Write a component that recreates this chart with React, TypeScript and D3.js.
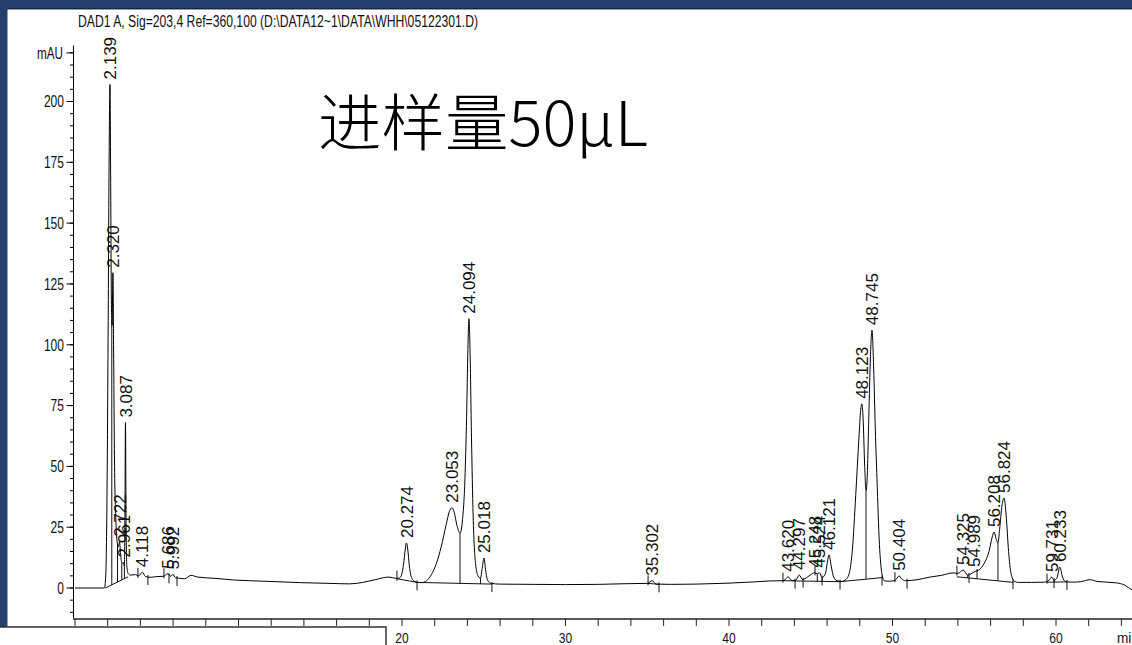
import React from 'react';
import * as d3 from 'd3';

const W = 1132;
const H = 645;

const title = 'DAD1 A, Sig=203,4 Ref=360,100 (D:\\DATA12~1\\DATA\\WHH\\05122301.D)';
const annotation = '进样量50μL';

// Detector trace: [retention time (min), signal (mAU)]
const tracePoints: [number, number][] = [
  [0, 0], [1.8, 0], [1.88, 5], [1.96, 40], [2.03, 110], [2.09, 180], [2.139, 207],
  [2.18, 170], [2.23, 115], [2.27, 108], [2.32, 129.6], [2.36, 100], [2.42, 50],
  [2.5, 28], [2.6, 18], [2.66, 17], [2.722, 19], [2.8, 13], [2.88, 10], [2.961, 10.5],
  [3.02, 9], [3.055, 30], [3.087, 68], [3.12, 30], [3.17, 9], [3.25, 6], [3.4, 5.3],
  [3.7, 5.5], [3.9, 5.0], [4.118, 6.5], [4.3, 4.8], [4.6, 4.4], [5.0, 4.7], [5.4, 4.8],
  [5.686, 5.9], [5.85, 4.8], [5.992, 5.6], [6.15, 4.2], [6.4, 4.0], [6.7, 3.8],
  [7.1, 5.2], [7.5, 4.5], [8.5, 4.0], [9.7, 3.3], [11.5, 2.8], [13.8, 2.2], [15.6, 1.9],
  [16.8, 1.7], [17.6, 2.3], [18.4, 3.5], [19.2, 4.5], [19.6, 4.0], [19.8, 4.0],
  [19.95, 5], [20.1, 10], [20.2, 16], [20.274, 18.5], [20.35, 16], [20.45, 9],
  [20.6, 4], [20.8, 2.6], [20.92, 2.3], [21.2, 2.2], [21.5, 3], [21.8, 5.5], [22.1, 10],
  [22.4, 17], [22.7, 26], [22.9, 31.5], [23.053, 33], [23.2, 31], [23.35, 26],
  [23.55, 22.5], [23.7, 28], [23.85, 45], [23.95, 70], [24.03, 98], [24.094, 110.7],
  [24.16, 98], [24.25, 62], [24.35, 30], [24.5, 10], [24.65, 5], [24.8, 4], [24.9, 8],
  [25.018, 12.3], [25.12, 7], [25.25, 3], [25.45, 1.9], [26, 1.6], [28, 1.5], [30, 1.4],
  [32, 1.5], [34, 1.8], [35.0, 1.9], [35.302, 3.0], [35.55, 1.6], [36.5, 1.5], [38, 1.6],
  [40, 2.0], [41.5, 2.5], [42.5, 2.9], [43.3, 3.0], [43.45, 3.6], [43.62, 4.6],
  [43.8, 3.2], [44.05, 3], [44.297, 5.3], [44.5, 3.5], [44.8, 4.5], [45.0, 5.5],
  [45.248, 6.3], [45.4, 5.8], [45.524, 6.3], [45.7, 4.3], [45.9, 6], [46.0, 10],
  [46.121, 13.6], [46.25, 9], [46.4, 4.5], [46.6, 3], [46.9, 2.7], [47.15, 3.5],
  [47.35, 6], [47.55, 16], [47.75, 38], [47.95, 62], [48.05, 73], [48.123, 75.7],
  [48.2, 70], [48.3, 50], [48.38, 40], [48.45, 45], [48.55, 70], [48.65, 95],
  [48.745, 106], [48.85, 90], [48.95, 65], [49.05, 45], [49.2, 18], [49.35, 6],
  [49.5, 3], [49.8, 2.8], [50.1, 3], [50.25, 3.8], [50.404, 5], [50.55, 3.8], [50.8, 3],
  [51.5, 3.4], [52.3, 4.5], [53.0, 5.2], [53.7, 6.2], [54.0, 6.0], [54.325, 7.4],
  [54.6, 5.3], [54.989, 6.6], [55.3, 7.5], [55.6, 10], [55.9, 15], [56.1, 21],
  [56.208, 23], [56.35, 20], [56.45, 18.5], [56.55, 24], [56.7, 34], [56.824, 37],
  [56.95, 30], [57.1, 15], [57.25, 6], [57.45, 2.8], [57.7, 2.3], [58.5, 2.3],
  [59.3, 2.4], [59.55, 3], [59.731, 4.5], [59.88, 3.2], [60.05, 4], [60.233, 8.6],
  [60.4, 4.5], [60.6, 2.6], [61, 2.4], [61.5, 2.6], [62.1, 3.4], [62.5, 2.7],
  [63.7, 2.1], [64.2, 1.2], [64.65, -0.8], [65.2, -1.8],
];

// Integrated peaks: retention time (min) and apex height (mAU)
const peakTimes = [
  2.139, 2.32, 2.722, 2.961, 3.087, 4.118, 5.686, 5.992, 20.274, 23.053, 24.094,
  25.018, 35.302, 43.62, 44.297, 45.248, 45.524, 46.121, 48.123, 48.745, 50.404,
  54.325, 54.989, 56.208, 56.824, 59.731, 60.233,
];
const peakHeights = [
  207, 129.6, 19, 10.5, 68, 6.5, 5.9, 5.6, 18.5, 33, 110.7,
  12.3, 3.0, 4.6, 5.3, 6.3, 6.3, 13.6, 75.7, 106, 5,
  7.4, 6.6, 23, 37, 4.5, 8.6,
];

// Integration baselines: [t1, v1, t2, v2]
const integrationBaselines: [number, number, number, number][] = [
  [1.85, 0, 3.25, 4.6],
  [19.7, 3.8, 20.92, 2.3],
  [20.92, 2.3, 25.5, 1.6],
  [35.05, 1.9, 35.72, 1.5],
  [43.3, 3.0, 46.8, 2.6],
  [46.8, 2.6, 49.4, 4.3],
  [53.94, 4.6, 57.4, 2.3],
  [59.45, 2.4, 60.67, 2.5],
];

// Drop lines separating fused peaks: [t, baseline value, trace value]
const dropLines: [number, number, number][] = [
  [2.25, 1.2, 110], [2.6, 2.4, 18], [2.86, 3.4, 10], [3.02, 3.9, 9],
  [23.55, 1.9, 22.5], [24.8, 1.7, 4],
  [44.05, 2.9, 3], [45.4, 2.7, 5.8], [45.7, 2.7, 4.3],
  [48.38, 3.6, 40], [54.6, 4.1, 5.3], [56.45, 2.95, 18.5], [59.88, 2.4, 3.2],
];

// Peak start (+1) / end (-1) markers: [t, value, direction]
const peakMarks: [number, number, number][] = [
  [3.85, 5.0, 1], [4.46, 4.5, -1], [5.44, 4.8, 1], [5.75, 5.2, -1], [6.24, 4.1, -1],
  [19.69, 3.8, 1], [20.92, 2.3, -1], [25.5, 1.6, -1],
  [35.05, 1.9, 1], [35.72, 1.5, -1],
  [43.3, 3.0, 1], [44.04, 3.0, -1], [44.53, 3.4, -1], [45.26, 6.0, 1], [45.69, 4.3, -1],
  [46.79, 2.6, -1], [49.36, 4.3, -1], [50.15, 3.2, 1], [50.89, 3.0, -1],
  [53.94, 5.9, 1], [54.68, 5.4, -1], [55.17, 7.0, -1], [57.37, 2.8, -1],
  [59.45, 2.6, 1], [59.88, 3.2, -1], [60.67, 2.5, -1],
];

const yMajorTicks = [0, 25, 50, 75, 100, 125, 150, 175, 200];
const yMinorTicks = d3.range(-10, 221, 5);
const xLabelTicks = [20, 30, 40, 50, 60];
const xMinorTicks = d3.range(0, 66, 2);

const NAVY = '#24406e';
const LABEL_FONT = '"Liberation Sans", Arial, sans-serif';

export default function App() {
  const x = d3.scaleLinear().domain([0, 64]).range([75, 1121.4]);
  const y = d3.scaleLinear().domain([0, 200]).range([588, 101.5]);

  const traceLine = d3
    .line<[number, number]>()
    .x((d) => x(d[0]))
    .y((d) => y(d[1]))
    .curve(d3.curveMonotoneX);

  const axisBottomY = y(-12.7);
  const axisTopY = y(223);

  return (
    <svg
      width={W}
      height={H}
      viewBox={`0 0 ${W} ${H}`}
      style={{ position: 'absolute', left: 0, top: 0, display: 'block', background: '#fff' }}
    >
      <rect x={0} y={0} width={W} height={H} fill="#fff" />

      {/* window frame */}
      <rect x={0} y={0} width={W} height={8} fill={NAVY} />
      <line x1={0} x2={W} y1={8.5} y2={8.5} stroke="#14264a" strokeWidth={1} />
      <line x1={0} x2={W} y1={9.5} y2={9.5} stroke="#9a9a9a" strokeWidth={1} />
      <rect x={0} y={0} width={7.5} height={627} fill={NAVY} />

      {/* header */}
      <text
        x={78}
        y={27}
        fontFamily={LABEL_FONT}
        fontSize={16}
        textLength={400}
        lengthAdjust="spacingAndGlyphs"
        fill="#111"
      >
        {title}
      </text>

      {/* y axis */}
      <line x1={73.5} x2={73.5} y1={axisTopY} y2={axisBottomY} stroke="#000" strokeWidth={1} />
      {yMinorTicks.map((v) => (
        <line key={`ym${v}`} x1={70} x2={73.5} y1={y(v)} y2={y(v)} stroke="#000" strokeWidth={1} />
      ))}
      {yMajorTicks.map((v) => (
        <g key={`yM${v}`}>
          <line x1={66.5} x2={73.5} y1={y(v)} y2={y(v)} stroke="#000" strokeWidth={1} />
          <text
            x={64}
            y={y(v)}
            dy="0.36em"
            textAnchor="end"
            fontFamily={LABEL_FONT}
            fontSize={16}
            textLength={String(v).length * 6.7}
            lengthAdjust="spacingAndGlyphs"
            fill="#111"
          >
            {v}
          </text>
        </g>
      ))}
      <line x1={66.5} x2={73.5} y1={y(220)} y2={y(220)} stroke="#000" strokeWidth={1} />
      <text
        x={63}
        y={y(220)}
        dy="0.36em"
        textAnchor="end"
        fontFamily={LABEL_FONT}
        fontSize={16}
        textLength={26}
        lengthAdjust="spacingAndGlyphs"
        fill="#111"
      >
        mAU
      </text>

      {/* x axis */}
      <line x1={73} x2={W} y1={axisBottomY} y2={axisBottomY} stroke="#5a5a5a" strokeWidth={2} />
      {xMinorTicks.map((t) => (
        <line
          key={`xm${t}`}
          x1={x(t)}
          x2={x(t)}
          y1={axisBottomY}
          y2={axisBottomY + 7}
          stroke="#222"
          strokeWidth={1}
        />
      ))}
      {xLabelTicks.map((t) => (
        <text
          key={`xl${t}`}
          x={x(t)}
          y={643}
          textAnchor="middle"
          fontFamily={LABEL_FONT}
          fontSize={15}
          textLength={String(t).length * 6.7}
          lengthAdjust="spacingAndGlyphs"
          fill="#111"
        >
          {t}
        </text>
      ))}
      <text
        x={1117}
        y={643}
        fontFamily={LABEL_FONT}
        fontSize={15}
        textLength={22}
        lengthAdjust="spacingAndGlyphs"
        fill="#111"
      >
        min
      </text>

      {/* integration baselines */}
      {integrationBaselines.map(([t1, v1, t2, v2], i) => (
        <line
          key={`ib${i}`}
          x1={x(t1)}
          y1={y(v1)}
          x2={x(t2)}
          y2={y(v2)}
          stroke="#111"
          strokeWidth={1}
        />
      ))}
      {dropLines.map(([t, v0, v1], i) => (
        <line
          key={`dl${i}`}
          x1={x(t)}
          x2={x(t)}
          y1={y(v0)}
          y2={y(v1)}
          stroke="#111"
          strokeWidth={1}
        />
      ))}
      {peakMarks.map(([t, v, dir], i) => (
        <line
          key={`pm${i}`}
          x1={x(t)}
          x2={x(t)}
          y1={y(v) + (dir > 0 ? 2 : -2)}
          y2={y(v) + (dir > 0 ? -8 : 8)}
          stroke="#111"
          strokeWidth={1}
        />
      ))}

      {/* signal */}
      <path d={traceLine(tracePoints) ?? ''} fill="none" stroke="#000" strokeWidth={1} />

      {/* retention time labels */}
      {peakTimes.map((t, i) => {
        const px = x(t);
        const py = y(peakHeights[i]) - 5;
        return (
          <text
            key={`pl${i}`}
            transform={`translate(${px},${py}) rotate(-90)`}
            dy="0.36em"
            fontFamily={LABEL_FONT}
            fontSize={17}
            fill="#111"
          >
            {t.toFixed(3)}
          </text>
        );
      })}

      {/* sample volume note */}
      <text
        x={318}
        y={146}
        fontFamily={'"Noto Sans CJK SC", "Noto Sans", sans-serif'}
        fontSize={62}
        fontWeight={300}
        textLength={330}
        lengthAdjust="spacingAndGlyphs"
        fill="#000"
      >
        {annotation}
      </text>

      {/* overlapping panel along the bottom edge */}
      <rect x={-2} y={627} width={388} height={30} fill="#fff" stroke="#333" strokeWidth={1.5} />
    </svg>
  );
}
